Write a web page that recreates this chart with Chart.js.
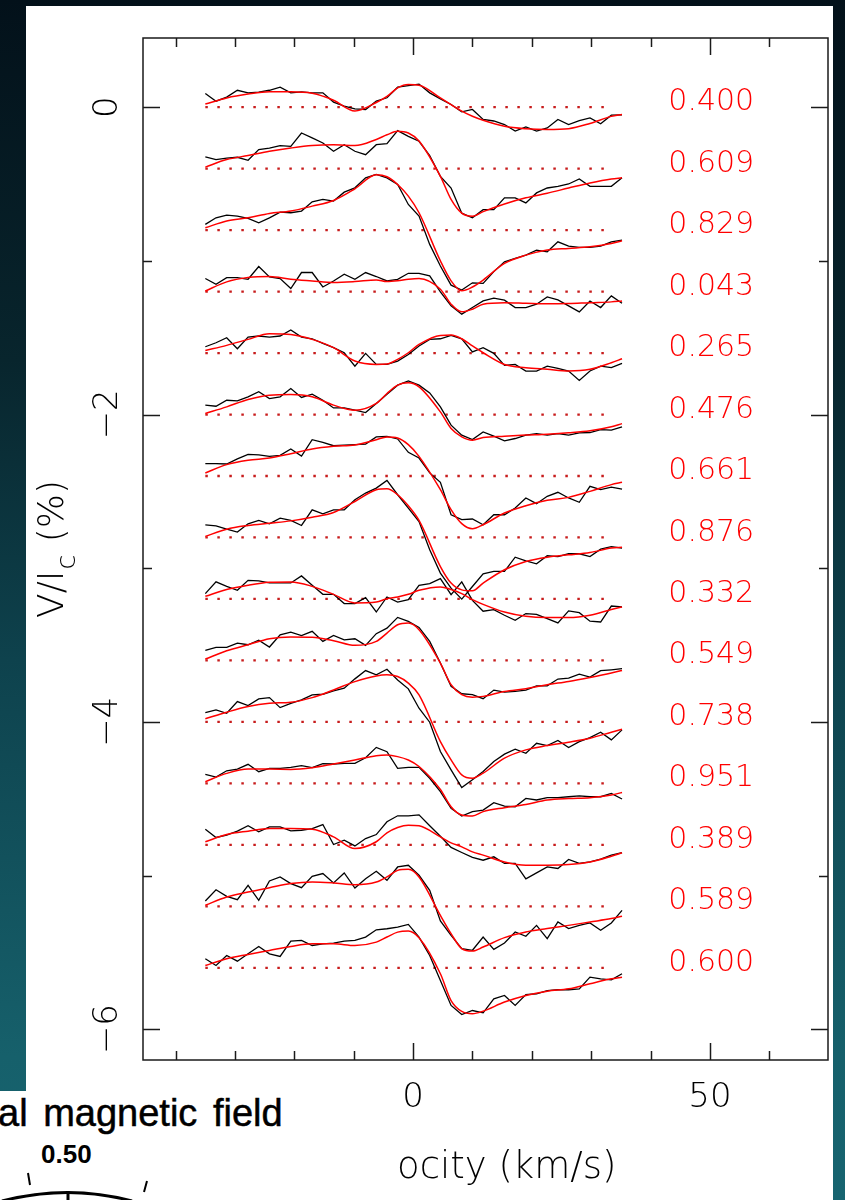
<!DOCTYPE html>
<html>
<head>
<meta charset="utf-8">
<script src="https://cdn.jsdelivr.net/npm/chart.js@4.4.0/dist/chart.umd.min.js"></script>
<style>
    html, body { margin: 0; padding: 0; }
    body {
        width: 845px; height: 1200px; position: relative; overflow: hidden;
        background: linear-gradient(to bottom, #03111a 0%, #08252d 30%, #0e424d 55%, #16606b 88%, #176470 100%);
    }
    #panel { position: absolute; left: 26px; top: 6px; width: 807px; height: 1194px; background: #fff; }
    #panel2 { position: absolute; left: 0; top: 1091px; width: 26px; height: 109px; background: #fff; }
    #chart { position: absolute; left: 0; top: 0; }
    .txt { position: absolute; white-space: nowrap; color: #000; line-height: 1; }
    #fieldTitle { left: -2px; top: 1092px; font: 38px "Liberation Sans", Arial, sans-serif; word-spacing: 5px; -webkit-text-stroke: 0.5px #000; }
    #fieldVal { left: 41px; top: 1139px; font: bold 26px "Liberation Sans", Arial, sans-serif; }
    #arc { position: absolute; left: 0; top: 1160px; }
</style>
</head>
<body>
<div id="panel"></div>
<div id="panel2"></div>
<div class="txt" id="fieldTitle">al magnetic field</div>
<div class="txt" id="fieldVal">0.50</div>
<svg id="arc" width="200" height="40" viewBox="0 1160 200 40">
    <path d="M 2 1201 Q 68 1184 132 1201" fill="none" stroke="#000" stroke-width="3"/>
    <line x1="68" y1="1191" x2="68" y2="1200" stroke="#000" stroke-width="3"/>
    <line x1="28" y1="1173" x2="30" y2="1185" stroke="#000" stroke-width="2"/>
    <line x1="147" y1="1181" x2="144" y2="1192" stroke="#000" stroke-width="2"/>
</svg>
<canvas id="chart" width="845" height="1200"></canvas>
<script>
/* =============================================
   Circular polarisation profiles, V/Ic vs velocity
   ============================================= */

// velocity grid of the observed profiles (km/s)
const vel = [-35.0, -33.2, -31.4, -29.6, -27.8, -26.0, -24.2, -22.4, -20.6, -18.8,
    -17.0, -15.2, -13.4, -11.6, -9.8, -8.0, -6.2, -4.4, -2.6, -0.8,
    1.0, 2.8, 4.6, 6.4, 8.2, 10.0, 11.8, 13.6, 15.4, 17.2,
    19.0, 20.8, 22.6, 24.4, 26.2, 28.0, 29.8, 31.6, 33.4, 35.2];

// velocity grid of the model fits (km/s)
const fitVel = [-35.0, -31.4, -27.8, -24.2, -20.6, -17.0, -13.4, -9.8, -6.2, -4.4,
    -2.6, -0.8, 1.0, 4.6, 6.4, 8.2, 10.0, 11.8, 15.4, 19.0,
    22.6, 26.2, 29.8, 33.4, 35.2];

// rotation phases and the vertical shift of each profile (%)
const phases = ['0.400', '0.609', '0.829', '0.043', '0.265', '0.476', '0.661', '0.876',
    '0.332', '0.549', '0.738', '0.951', '0.389', '0.589', '0.600'];
const offsets = [0, -0.4, -0.8, -1.2, -1.6, -2.0, -2.4, -2.8, -3.2, -3.6, -4.0, -4.4, -4.8, -5.2, -5.6];

// observed V/Ic (%), relative to each profile's zero line
const obs400 = [0.089, 0.039, 0.065, 0.11, 0.093, 0.098, 0.11, 0.13, 0.093, 0.10, 0.093, 0.093, 0.033, 0.007, -0.011, -0.015, 0.039, 0.061, 0.13, 0.14, 0.15, 0.093, 0.054, 0.017, -0.03, -0.015, -0.08, -0.09, -0.113, -0.156, -0.128, -0.156, -0.135, -0.08, -0.113, -0.087, -0.07, -0.108, -0.052, -0.05];
const obs609 = [0.076, 0.059, 0.069, 0.074, 0.054, 0.124, 0.134, 0.15, 0.145, 0.232, 0.2, 0.167, 0.113, 0.156, 0.113, 0.091, 0.156, 0.163, 0.247, 0.21, 0.178, 0.085, -0.05, -0.126, -0.29, -0.32, -0.267, -0.267, -0.19, -0.19, -0.223, -0.158, -0.126, -0.115, -0.1, -0.067, -0.115, -0.115, -0.115, -0.06];
const obs829 = [0.037, 0.08, 0.098, 0.091, 0.076, 0.048, 0.08, 0.117, 0.113, 0.124, 0.184, 0.2, 0.189, 0.247, 0.275, 0.34, 0.362, 0.34, 0.297, 0.167, 0.091, -0.093, -0.234, -0.358, -0.39, -0.343, -0.347, -0.27, -0.206, -0.184, -0.163, -0.13, -0.141, -0.076, -0.104, -0.113, -0.113, -0.104, -0.076, -0.065];
const obs043 = [0.085, 0.048, 0.091, 0.091, 0.08, 0.163, 0.095, 0.085, 0.02, 0.124, 0.124, 0.03, 0.069, 0.113, 0.08, 0.124, 0.098, 0.069, 0.08, 0.119, 0.119, 0.102, -0.002, -0.093, -0.147, -0.104, -0.061, -0.043, -0.056, -0.104, -0.104, -0.082, -0.035, -0.054, -0.093, -0.132, -0.061, -0.104, -0.028, -0.076];
const obs265 = [0.041, 0.067, 0.1, 0.028, 0.104, 0.111, 0.104, 0.111, 0.15, 0.104, 0.093, 0.063, 0.035, 0.002, -0.085, -0.002, -0.074, -0.074, -0.052, -0.009, 0.046, 0.089, 0.093, 0.115, 0.093, 0.007, 0.035, -0.002, -0.08, -0.074, -0.117, -0.117, -0.085, -0.1, -0.117, -0.178, -0.117, -0.085, -0.095, -0.067];
const obs476 = [0.061, 0.054, 0.093, 0.089, 0.115, 0.148, 0.104, 0.115, 0.169, 0.111, 0.132, 0.093, 0.043, 0.043, 0.028, 0.013, 0.072, 0.132, 0.191, 0.219, 0.191, 0.141, 0.05, -0.069, -0.134, -0.163, -0.113, -0.141, -0.171, -0.156, -0.134, -0.124, -0.134, -0.124, -0.134, -0.119, -0.117, -0.098, -0.102, -0.08];
const obs661 = [0.08, 0.08, 0.078, 0.111, 0.141, 0.137, 0.128, 0.134, 0.176, 0.13, 0.236, 0.219, 0.197, 0.2, 0.204, 0.208, 0.254, 0.258, 0.241, 0.154, 0.117, 0.02, -0.041, -0.252, -0.284, -0.28, -0.317, -0.252, -0.252, -0.208, -0.143, -0.18, -0.132, -0.106, -0.143, -0.171, -0.067, -0.089, -0.072, -0.085];
const obs876 = [0.082, 0.076, 0.054, 0.035, 0.089, 0.111, 0.089, 0.126, 0.111, 0.078, 0.18, 0.154, 0.18, 0.18, 0.245, 0.289, 0.321, 0.371, 0.278, 0.191, 0.104, -0.08, -0.232, -0.33, -0.401, -0.319, -0.236, -0.221, -0.221, -0.128, -0.152, -0.171, -0.119, -0.124, -0.106, -0.106, -0.124, -0.076, -0.059, -0.069];
const obs332 = [0.035, 0.111, 0.082, 0.056, 0.121, 0.117, 0.104, 0.104, 0.104, 0.15, 0.089, 0.03, 0.03, -0.03, -0.03, 0.009, -0.085, 0.013, -0.02, -0.004, 0.089, 0.1, 0.132, 0.028, 0.111, -0.009, -0.08, -0.069, -0.106, -0.139, -0.095, -0.1, -0.128, -0.156, -0.078, -0.089, -0.145, -0.15, -0.046, -0.052];
const obs549 = [0.065, 0.085, 0.085, 0.113, 0.102, 0.132, 0.087, 0.167, 0.184, 0.161, 0.189, 0.124, 0.163, 0.134, 0.141, 0.098, 0.174, 0.21, 0.28, 0.254, 0.215, 0.124, -0.017, -0.169, -0.217, -0.223, -0.249, -0.193, -0.206, -0.202, -0.193, -0.165, -0.165, -0.121, -0.115, -0.089, -0.108, -0.067, -0.061, -0.054];
const obs738 = [0.061, 0.078, 0.056, 0.132, 0.106, 0.15, 0.158, 0.093, 0.121, 0.143, 0.176, 0.18, 0.202, 0.219, 0.28, 0.334, 0.306, 0.343, 0.273, 0.215, 0.089, -0.002, -0.193, -0.312, -0.427, -0.377, -0.323, -0.258, -0.21, -0.178, -0.204, -0.139, -0.154, -0.121, -0.167, -0.128, -0.102, -0.067, -0.117, -0.052];
const obs951 = [0.059, 0.041, 0.082, 0.093, 0.124, 0.076, 0.098, 0.098, 0.104, 0.115, 0.102, 0.128, 0.126, 0.13, 0.13, 0.167, 0.234, 0.206, 0.098, 0.104, 0.104, 0.033, -0.054, -0.163, -0.213, -0.184, -0.174, -0.126, -0.148, -0.152, -0.098, -0.108, -0.093, -0.093, -0.087, -0.082, -0.087, -0.087, -0.065, -0.102];
const obs389 = [0.102, 0.048, 0.063, 0.089, 0.124, 0.085, 0.117, 0.117, 0.091, 0.095, 0.106, 0.132, 0.002, 0.03, -0.007, 0.041, 0.067, 0.15, 0.189, 0.189, 0.195, 0.124, 0.056, -0.017, -0.05, -0.082, -0.1, -0.078, -0.121, -0.121, -0.221, -0.182, -0.143, -0.154, -0.095, -0.121, -0.111, -0.093, -0.067, -0.05];
const obs589 = [0.035, 0.108, 0.065, 0.043, 0.137, 0.039, 0.165, 0.191, 0.148, 0.121, 0.195, 0.213, 0.152, 0.217, 0.119, 0.18, 0.228, 0.169, 0.256, 0.267, 0.202, 0.104, -0.095, -0.189, -0.275, -0.286, -0.2, -0.28, -0.239, -0.167, -0.195, -0.124, -0.21, -0.102, -0.145, -0.124, -0.108, -0.156, -0.108, -0.026];
const obs600 = [0.059, 0.015, 0.08, 0.043, 0.091, 0.139, 0.091, 0.074, 0.174, 0.178, 0.145, 0.156, 0.161, 0.174, 0.178, 0.2, 0.247, 0.254, 0.265, 0.282, 0.2, 0.08, -0.082, -0.245, -0.304, -0.278, -0.293, -0.202, -0.18, -0.245, -0.174, -0.169, -0.148, -0.143, -0.143, -0.137, -0.061, -0.072, -0.078, -0.039];

// model V/Ic (%) on fitVel, relative to each profile's zero line
const fit400 = [0.02, 0.06, 0.085, 0.1, 0.1, 0.09, 0.045, -0.025, 0.03, 0.07, 0.125, 0.147, 0.143, 0.06, 0.017, -0.026, -0.059, -0.085, -0.124, -0.14, -0.145, -0.14, -0.106, -0.06, -0.048];
const fit609 = [0.01, 0.059, 0.085, 0.113, 0.134, 0.15, 0.155, 0.15, 0.19, 0.22, 0.243, 0.232, 0.18, -0.05, -0.2, -0.29, -0.31, -0.28, -0.23, -0.19, -0.16, -0.126, -0.093, -0.067, -0.06];
const fit829 = [0.015, 0.059, 0.08, 0.108, 0.124, 0.156, 0.193, 0.269, 0.36, 0.347, 0.297, 0.221, 0.113, -0.2, -0.33, -0.395, -0.37, -0.325, -0.217, -0.163, -0.13, -0.119, -0.108, -0.087, -0.069];
const fit043 = [0.004, 0.063, 0.091, 0.098, 0.08, 0.069, 0.059, 0.065, 0.076, 0.065, 0.07, 0.08, 0.085, 0.015, -0.082, -0.132, -0.115, -0.082, -0.072, -0.076, -0.08, -0.078, -0.072, -0.067, -0.061];
const fit265 = [0.017, 0.05, 0.089, 0.126, 0.121, 0.089, 0.035, -0.052, -0.074, -0.072, -0.041, 0.002, 0.056, 0.115, 0.117, 0.093, 0.046, 0.002, -0.074, -0.095, -0.106, -0.117, -0.106, -0.063, -0.037];
const fit476 = [0.007, 0.05, 0.098, 0.126, 0.13, 0.115, 0.061, 0.028, 0.072, 0.137, 0.191, 0.206, 0.18, 0.017, -0.091, -0.145, -0.167, -0.15, -0.141, -0.134, -0.128, -0.119, -0.106, -0.08, -0.059];
const fit661 = [0.02, 0.074, 0.102, 0.117, 0.145, 0.176, 0.193, 0.202, 0.236, 0.254, 0.247, 0.204, 0.128, -0.089, -0.219, -0.31, -0.343, -0.317, -0.241, -0.193, -0.158, -0.139, -0.1, -0.056, -0.041];
const fit876 = [0.007, 0.054, 0.078, 0.093, 0.108, 0.132, 0.163, 0.234, 0.31, 0.317, 0.278, 0.206, 0.111, -0.189, -0.297, -0.341, -0.347, -0.297, -0.21, -0.156, -0.128, -0.113, -0.098, -0.069, -0.063];
const fit332 = [0.017, 0.061, 0.089, 0.108, 0.111, 0.082, 0.03, -0.026, -0.02, 0.002, 0.013, 0.03, 0.056, 0.078, 0.061, 0.035, -0.004, -0.035, -0.085, -0.113, -0.121, -0.121, -0.106, -0.069, -0.052];
const fit549 = [0.009, 0.063, 0.102, 0.141, 0.152, 0.15, 0.128, 0.098, 0.124, 0.178, 0.232, 0.243, 0.2, -0.017, -0.158, -0.223, -0.239, -0.234, -0.202, -0.184, -0.158, -0.137, -0.111, -0.082, -0.065];
const fit738 = [0.02, 0.063, 0.1, 0.121, 0.128, 0.158, 0.208, 0.262, 0.299, 0.306, 0.295, 0.252, 0.176, -0.128, -0.247, -0.345, -0.367, -0.334, -0.236, -0.182, -0.154, -0.132, -0.106, -0.067, -0.048];
const fit951 = [0.011, 0.065, 0.093, 0.093, 0.091, 0.102, 0.126, 0.152, 0.18, 0.184, 0.174, 0.152, 0.11, -0.04, -0.152, -0.206, -0.213, -0.184, -0.158, -0.137, -0.108, -0.098, -0.093, -0.076, -0.059];
const fit389 = [0.02, 0.067, 0.089, 0.106, 0.106, 0.102, 0.052, -0.024, 0.02, 0.078, 0.113, 0.128, 0.124, 0.052, 0.013, -0.013, -0.046, -0.067, -0.111, -0.132, -0.132, -0.128, -0.111, -0.074, -0.052];
const fit589 = [0.007, 0.061, 0.093, 0.121, 0.148, 0.158, 0.152, 0.141, 0.158, 0.191, 0.234, 0.241, 0.191, -0.059, -0.178, -0.275, -0.291, -0.265, -0.204, -0.167, -0.145, -0.124, -0.102, -0.08, -0.065];
const fit600 = [0.015, 0.059, 0.087, 0.113, 0.139, 0.156, 0.156, 0.145, 0.167, 0.2, 0.232, 0.239, 0.195, -0.039, -0.213, -0.284, -0.299, -0.282, -0.223, -0.18, -0.152, -0.137, -0.104, -0.072, -0.061];

// axis ticks
const xTicks = [-40, -30, -20, -10, 0, 10, 20, 30, 40, 50, 60];
const xMajor = [0, 50];
const xTickLabels = ['0', '50'];
const yTicks = [0, -1, -2, -3, -4, -5, -6];
const yMajor = [0, -2, -4, -6];
const yTickLabels = ['0', '\u22122', '\u22124', '\u22126'];

const observed = [obs400, obs609, obs829, obs043, obs265, obs476, obs661, obs876,
    obs332, obs549, obs738, obs951, obs389, obs589, obs600];
const fits = [fit400, fit609, fit829, fit043, fit265, fit476, fit661, fit876,
    fit332, fit549, fit738, fit951, fit389, fit589, fit600];

// thin PGPLOT-like lettering; falls back to the regular face if the light one is missing
const FONT = '"DejaVu Sans", Verdana, sans-serif';
const W = '200 ';

const datasets = [];
phases.forEach((ph, k) => {
    const base = offsets[k];
    datasets.push({
        label: 'obs ' + ph,
        data: vel.map((v, i) => ({ x: v, y: base + observed[k][i] })),
        borderColor: '#000',
        borderWidth: 1.3,
        pointRadius: 0,
        tension: 0,
        order: 2
    });
    datasets.push({
        label: 'fit ' + ph,
        data: fitVel.map((v, i) => ({ x: v, y: base + fits[k][i] })),
        borderColor: '#ff0000',
        borderWidth: 1.5,
        pointRadius: 0,
        cubicInterpolationMode: 'monotone',
        order: 1
    });
    datasets.push({
        label: 'zero ' + ph,
        data: [{ x: vel[0], y: base }, { x: vel[38], y: base }],
        borderColor: '#c81c1c',
        borderWidth: 2.3,
        borderDash: [2.5, 9.5],
        pointRadius: 0,
        order: 3
    });
});

// frame, inward ticks, tick labels, titles and phase labels
const framePlugin = {
    id: 'frame',
    afterDatasetsDraw(chart) {
        const { ctx, chartArea: a, scales: { x, y } } = chart;
        ctx.save();
        ctx.strokeStyle = '#1a1a1a';
        ctx.lineWidth = 1.5;
        ctx.strokeRect(a.left, a.top, a.right - a.left, a.bottom - a.top);

        const seg = (x1, y1, x2, y2) => {
            ctx.beginPath();
            ctx.moveTo(x1, y1);
            ctx.lineTo(x2, y2);
            ctx.stroke();
        };
        xTicks.forEach(v => {
            const px = Math.round(x.getPixelForValue(v)) + 0.5;
            const len = xMajor.includes(v) ? 17 : 9;
            seg(px, a.bottom, px, a.bottom - len);
            seg(px, a.top, px, a.top + len);
        });
        yTicks.forEach(v => {
            const py = Math.round(y.getPixelForValue(v)) + 0.5;
            const len = yMajor.includes(v) ? 17 : 9;
            seg(a.left, py, a.left + len, py);
            seg(a.right, py, a.right - len, py);
        });

        // tick labels
        ctx.fillStyle = '#000';
        ctx.font = W + '34px ' + FONT;
        ctx.textAlign = 'center';
        ctx.textBaseline = 'alphabetic';
        xMajor.forEach((v, i) => {
            ctx.fillText(xTickLabels[i], x.getPixelForValue(v), a.bottom + 47);
        });
        yMajor.forEach((v, i) => {
            ctx.save();
            ctx.translate(a.left - 26, y.getPixelForValue(v));
            ctx.rotate(-Math.PI / 2);
            ctx.fillText(yTickLabels[i], 0, 0);
            ctx.restore();
        });

        // x title (left part hidden under the overlapping figure)
        ctx.textAlign = 'left';
        ctx.font = W + '37px ' + FONT;
        ctx.fillText('ocity (km/s)', 397, 1178);

        // y title V/I_c (%)
        ctx.save();
        ctx.translate(63, 550);
        ctx.rotate(-Math.PI / 2);
        const big = W + '36px ' + FONT, small = W + '27px ' + FONT;
        ctx.font = big;
        const w1 = ctx.measureText('V/I').width;
        const w3 = ctx.measureText(' (%)').width;
        ctx.font = small;
        const w2 = ctx.measureText('c').width;
        let cx = -(w1 + w2 + w3) / 2;
        ctx.font = big;
        ctx.fillText('V/I', cx, 0);
        cx += w1;
        ctx.font = small;
        ctx.fillText('c', cx + 1, 12);
        cx += w2 + 2;
        ctx.font = big;
        ctx.fillText(' (%)', cx, 0);
        ctx.restore();

        // phase labels
        ctx.fillStyle = '#ff0000';
        ctx.font = W + '30px ' + FONT;
        ctx.textAlign = 'left';
        phases.forEach((ph, k) => {
            ctx.fillText(ph, x.getPixelForValue(43), y.getPixelForValue(offsets[k] - 0.02));
        });
        ctx.restore();
    }
};

new Chart(document.getElementById('chart'), {
    type: 'line',
    data: { datasets },
    options: {
        responsive: false,
        animation: false,
        devicePixelRatio: 1,
        layout: { padding: { left: 143, top: 38, right: 17, bottom: 140 } },
        plugins: { legend: { display: false }, tooltip: { enabled: false } },
        scales: {
            x: { type: 'linear', min: -45.5, max: 69.9, display: false },
            y: { type: 'linear', min: -6.2, max: 0.45, display: false }
        }
    },
    plugins: [framePlugin]
});
</script>
</body>
</html>
